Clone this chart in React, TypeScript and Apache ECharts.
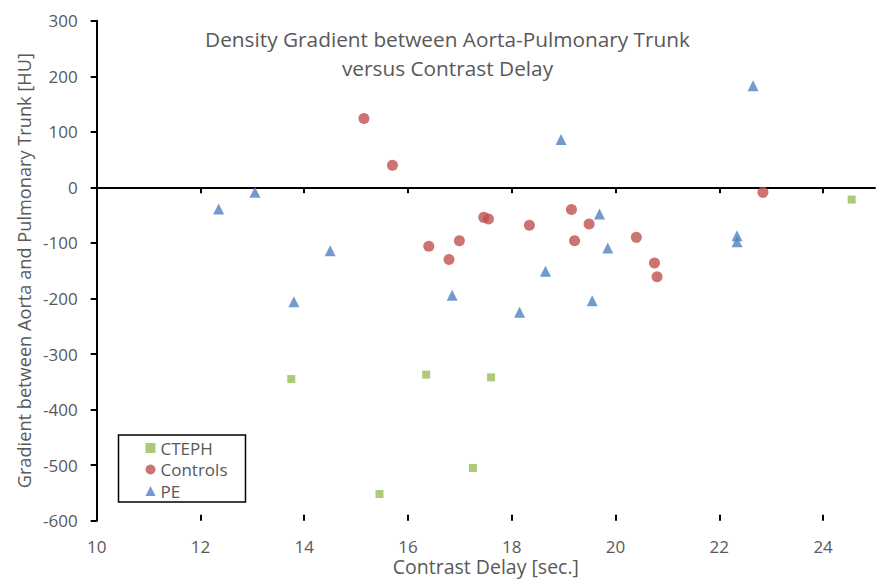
import React, { useEffect, useRef } from "react";
import * as echarts from "echarts";

const xTicks = [10, 12, 14, 16, 18, 20, 22, 24];

const ctephX = [13.75, 15.45, 16.35, 17.25, 17.6, 24.55];
const ctephY = [-345, -552, -337, -505, -342, -22];

const controlsX = [15.15, 15.7, 16.4, 16.79, 16.99, 17.46, 17.55, 18.34, 19.15, 19.21, 19.49, 20.4, 20.75, 20.8, 22.84];
const controlsY = [124, 40, -106, -130, -96, -54, -57, -68, -40, -96, -66, -90, -136, -161, -9];

const peX = [12.35, 13.05, 13.8, 14.5, 16.85, 18.15, 18.65, 18.95, 19.55, 19.69, 19.85, 22.34, 22.34, 22.65];
const peY = [-39, -9, -206, -114, -194, -225, -151, 86, -204, -48, -109, -87, -98, 183];

const seriesNames = ["CTEPH", "Controls", "PE"];
const titleLines = ["Density Gradient between Aorta-Pulmonary Trunk", "versus Contrast Delay"];
const xName = "Contrast Delay [sec.]";
const yName = "Gradient between Aorta and Pulmonary Trunk [HU]";

const zip = (xs: number[], ys: number[]) => xs.map((x, i) => [x, ys[i]]);

const FONT = "'Open Sans', 'Noto Sans', sans-serif";
const GREY = "#595959";

export default function App() {
  const ref = useRef<HTMLDivElement>(null);
  useEffect(() => {
    if (!ref.current) return;
    const chart = echarts.init(ref.current, null, { renderer: "svg" });
    chart.setOption({
      animation: false,
      backgroundColor: "#ffffff",
      textStyle: { fontFamily: FONT },
      title: {
        text: titleLines.join("\n"),
        left: 447.5,
        top: 25,
        padding: 0,
        textAlign: "center",
        textStyle: { fontFamily: FONT, fontSize: 20.8, fontWeight: "normal", color: GREY, lineHeight: 28.6 },
      },
      legend: {
        orient: "vertical",
        left: 118.5,
        top: 435,
        padding: [4.5, 18, 2.5, 27],
        itemGap: 4.5,
        itemWidth: 10,
        itemHeight: 10,
        borderColor: "#000",
        borderWidth: 1.5,
        backgroundColor: "#fff",
        textStyle: { fontFamily: FONT, fontSize: 17, lineHeight: 17, color: GREY },
        data: seriesNames,
      },
      grid: { left: 96.7, right: 3, top: 20.7, bottom: 58.3, outerBoundsMode: "none", containLabel: false },
      xAxis: [
        {
          type: "value",
          min: 10,
          max: 25,
          interval: 2,
          name: xName,
          nameLocation: "middle",
          nameMoveOverlap: false,
          nameGap: 36.5,
          nameTextStyle: { fontFamily: FONT, fontSize: 19.5, lineHeight: 19.5, color: GREY },
          axisLine: { lineStyle: { color: "#000", width: 2 } },
          axisTick: { show: true, inside: false, length: 6, customValues: xTicks, lineStyle: { color: "#000", width: 2 } },
          axisLabel: { customValues: xTicks, fontFamily: FONT, fontSize: 17, lineHeight: 16, color: GREY, margin: 18 },
          splitLine: { show: false },
        },
        {
          type: "value",
          min: 10,
          max: 25,
          interval: 2,
          position: "bottom",
          axisLine: { show: false },
          axisTick: { show: true, inside: true, length: 6, customValues: xTicks, lineStyle: { color: "#000", width: 2 } },
          axisLabel: { show: false },
          splitLine: { show: false },
        },
      ],
      yAxis: {
        type: "value",
        min: -600,
        max: 300,
        interval: 100,
        name: yName,
        nameLocation: "middle",
        nameMoveOverlap: false,
        nameGap: 64,
        nameTextStyle: { fontFamily: FONT, fontSize: 18.2, lineHeight: 18.2, color: GREY },
        axisLine: { show: true, lineStyle: { color: "#000", width: 2 } },
        axisTick: { show: true, length: 6, lineStyle: { color: "#000", width: 2 } },
        axisLabel: { fontFamily: FONT, fontSize: 17, color: GREY, margin: 19 },
        splitLine: { show: false },
      },
      series: [
        {
          name: seriesNames[0],
          type: "scatter",
          symbol: "rect",
          symbolSize: 8,
          itemStyle: { color: "#9BBB59" },
          data: zip(ctephX, ctephY),
          z: 3,
          markLine: {
            silent: true,
            symbol: "none",
            label: { show: false },
            lineStyle: { color: "#000", width: 2, type: "solid" },
            data: [{ yAxis: 0 }],
            z: 1,
          },
        },
        {
          name: seriesNames[1],
          type: "scatter",
          symbol: "circle",
          symbolSize: 11,
          itemStyle: { color: "#C0504D" },
          data: zip(controlsX, controlsY),
          z: 3,
        },
        {
          name: seriesNames[2],
          type: "scatter",
          symbol: "triangle",
          symbolSize: 11,
          itemStyle: { color: "#4F81BD" },
          data: zip(peX, peY),
          z: 3,
        },
      ],
    });
    return () => chart.dispose();
  }, []);
  return <div ref={ref} style={{ width: 878, height: 579, position: "absolute", left: 0, top: 0 }} />;
}
